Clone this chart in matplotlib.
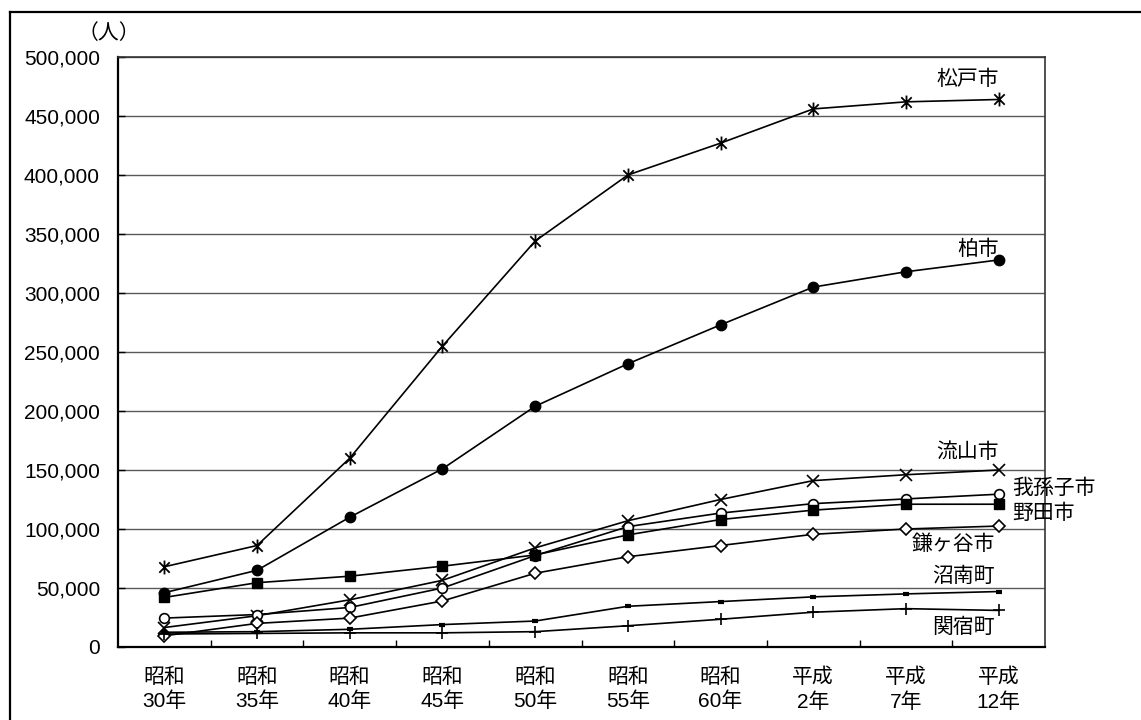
import matplotlib
matplotlib.use("Agg")
import matplotlib.pyplot as plt
from matplotlib.path import Path
from matplotlib.lines import Line2D
from matplotlib.ticker import FuncFormatter, FixedLocator

plt.rcParams['font.family'] = ['Liberation Sans', 'Noto Sans CJK JP']

# 年次 (x categories)
years = ['昭和\n30年', '昭和\n35年', '昭和\n40年', '昭和\n45年', '昭和\n50年',
         '昭和\n55年', '昭和\n60年', '平成\n2年', '平成\n7年', '平成\n12年']

# 人口
matsudo   = [68000, 86000, 160000, 255000, 344000, 400000, 427000, 456000, 462000, 464000]
kashiwa   = [46000, 65000, 110000, 151000, 204000, 240000, 273000, 305000, 318000, 328000]
nagareyama = [16500, 26500, 40000, 56500, 84000, 107000, 125000, 141000, 146000, 150000]
abiko     = [24500, 27500, 33500, 50000, 77500, 102000, 113500, 121500, 125500, 129500]
noda      = [42000, 54500, 60000, 68500, 78000, 95000, 108000, 116000, 121000, 121000]
kamagaya  = [9500, 20000, 24500, 39000, 62500, 76500, 86000, 95500, 100000, 102500]
shonan    = [12500, 13000, 15000, 19000, 22000, 34500, 38500, 42500, 45000, 47000]
sekiyado  = [11000, 11500, 12000, 12000, 13000, 18000, 23500, 29500, 32500, 31000]

# asterisk marker: x plus vertical bar
star = Path([(0, -1), (0, 1), (-0.75, -0.75), (0.75, 0.75), (-0.75, 0.75), (0.75, -0.75)],
            [Path.MOVETO, Path.LINETO, Path.MOVETO, Path.LINETO, Path.MOVETO, Path.LINETO])

fig = plt.figure(figsize=(11.41, 7.2), dpi=100)
ax = fig.add_axes([118 / 1141, 73 / 720, 927 / 1141, 590 / 720])

x = list(range(len(years)))
lw = 1.2
ax.plot(x, matsudo, color='black', lw=lw, marker=star, ms=10, mew=1.3, zorder=3)
ax.plot(x, kashiwa, color='black', lw=lw, marker='o', ms=7.5, zorder=3)
ax.plot(x, nagareyama, color='black', lw=lw, marker='x', ms=8.5, mew=1.2, zorder=3)
ax.plot(x, abiko, color='black', lw=lw, marker='o', ms=7, mfc='white', mew=1.2, zorder=3)
ax.plot(x, noda, color='black', lw=lw, marker='s', ms=6.5, zorder=3)
ax.plot(x, kamagaya, color='black', lw=lw, marker='D', ms=6.5, mfc='white', mew=1.2, zorder=3)
ax.plot(x, shonan, color='black', lw=lw, marker='_', ms=5, mew=3, zorder=3)
ax.plot(x, sekiyado, color='black', lw=lw, marker='+', ms=9, mew=1.2, zorder=3)

fs = 15
ax.text(9.0, 481000, '松戸市', ha='right', va='center', fontsize=fs)
ax.text(9.0, 337000, '柏市', ha='right', va='center', fontsize=fs)
ax.text(9.0, 165500, '流山市', ha='right', va='center', fontsize=fs)
ax.text(9.15, 134700, '我孫子市', ha='left', va='center', fontsize=fs, clip_on=False)
ax.text(9.15, 113500, '野田市', ha='left', va='center', fontsize=fs, clip_on=False)
ax.text(8.96, 87000, '鎌ヶ谷市', ha='right', va='center', fontsize=fs)
ax.text(8.96, 59500, '沼南町', ha='right', va='center', fontsize=fs)
ax.text(8.96, 17000, '関宿町', ha='right', va='center', fontsize=fs)

ax.set_xlim(-0.5, 9.5)
ax.set_ylim(0, 500000)
ax.set_yticks(range(0, 500001, 50000))
ax.yaxis.set_major_formatter(FuncFormatter(lambda v, p: f'{int(v):,}'))
ax.set_xticks(x)
ax.set_xticklabels(years, linespacing=1.3)
ax.xaxis.set_minor_locator(FixedLocator([i + 0.5 for i in range(9)]))
ax.tick_params(axis='x', which='major', length=0, pad=15, labelsize=fs)
ax.tick_params(axis='x', which='minor', direction='in', length=5, width=1, color='black')
ax.tick_params(axis='y', direction='in', length=5, width=1, pad=13, labelsize=fs)

ax.grid(axis='y', color='#5a5a5a', lw=1.0)
ax.set_axisbelow(True)
for side in ['left', 'bottom']:
    ax.spines[side].set_linewidth(1.6)
    ax.spines[side].set_color('black')
for side in ['top', 'right']:
    ax.spines[side].set_linewidth(1.2)
    ax.spines[side].set_color('#333333')

fig.text(109 / 1141, 1 - 33 / 720, '（人）', ha='center', va='center', fontsize=fs)

# outer frame (left and top edges visible)
fig.add_artist(Line2D([10 / 1141, 10 / 1141], [0, 1 - 12 / 720], color='black', lw=1.6))
fig.add_artist(Line2D([10 / 1141, 1], [1 - 12 / 720, 1 - 12 / 720], color='black', lw=1.6))

fig.savefig('out.png', dpi=100)
